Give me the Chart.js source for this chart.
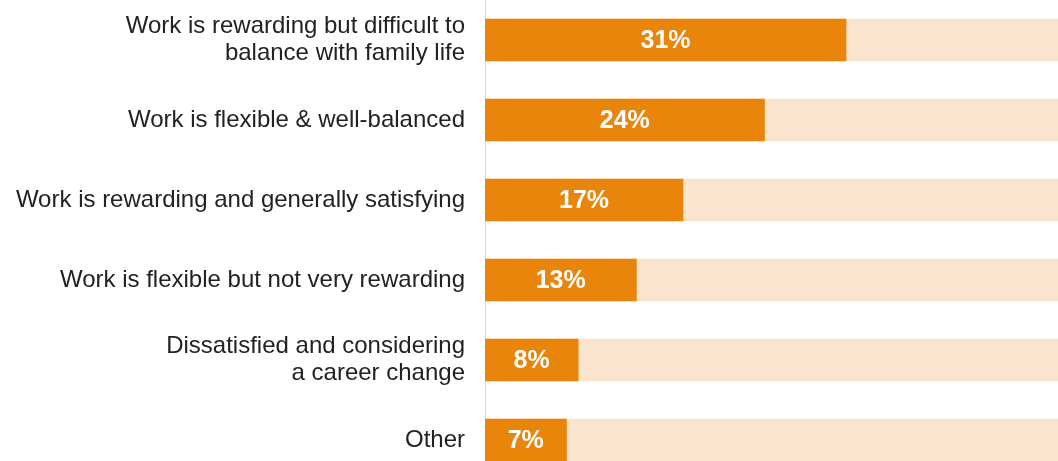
<!DOCTYPE html>
<html>
<head>
<meta charset="utf-8">
<script src="https://cdn.jsdelivr.net/npm/chart.js@4/dist/chart.umd.min.js"></script>
<style>
  html, body { margin: 0; padding: 0; background: #ffffff; overflow: hidden; }
  #wrap { position: relative; width: 1058px; height: 480px; }
</style>
</head>
<body>
<div id="wrap"><canvas id="c"></canvas></div>
<script>
const categories = [
  ["Work is rewarding but difficult to", "balance with family life"],
  "Work is flexible & well-balanced",
  "Work is rewarding and generally satisfying",
  "Work is flexible but not very rewarding",
  ["Dissatisfied and considering", "a career change"],
  "Other"
];
const shares = [31, 24, 17, 13, 8, 7];
const axisMax = 49.2;
const track = [49.2, 49.2, 49.2, 49.2, 49.2, 49.2];

const valueLabels = {
  id: 'valueLabels',
  afterDatasetsDraw(chart) {
    const ctx = chart.ctx;
    const meta = chart.getDatasetMeta(0);
    ctx.save();
    ctx.fillStyle = '#ffffff';
    ctx.font = 'bold 25px "Liberation Sans", Arial, sans-serif';
    ctx.textAlign = 'center';
    ctx.textBaseline = 'middle';
    meta.data.forEach((bar, i) => {
      const cx = (bar.x + bar.base) / 2;
      ctx.fillText(shares[i] + '%', cx, bar.y + 1);
    });
    ctx.restore();
  }
};

new Chart(document.getElementById('c'), {
  type: 'bar',
  data: {
    labels: categories,
    datasets: [
      {
        data: shares,
        backgroundColor: '#E8850A',
        grouped: false,
        barThickness: 42,
        borderWidth: 0
      },
      {
        data: track,
        backgroundColor: '#FBE4CD',
        grouped: false,
        barThickness: 42,
        borderWidth: 0
      }
    ]
  },
  options: {
    indexAxis: 'y',
    responsive: true,
    maintainAspectRatio: false,
    animation: false,
    layout: { padding: 0 },
    plugins: {
      legend: { display: false },
      tooltip: { enabled: false }
    },
    scales: {
      x: {
        display: false,
        min: 0,
        max: axisMax
      },
      y: {
        afterFit(scale) {
          scale.width = 485;
          scale.paddingTop = 0;
          scale.paddingBottom = 0;
        },
        grid: { display: false, drawTicks: false },
        border: { display: true, color: '#dcdcdc', width: 1 },
        ticks: {
          padding: 20,
          color: '#222222',
          font: { family: '"Liberation Sans", Arial, sans-serif', size: 24, lineHeight: 1.13 }
        }
      }
    }
  },
  plugins: [valueLabels]
});
</script>
</body>
</html>
